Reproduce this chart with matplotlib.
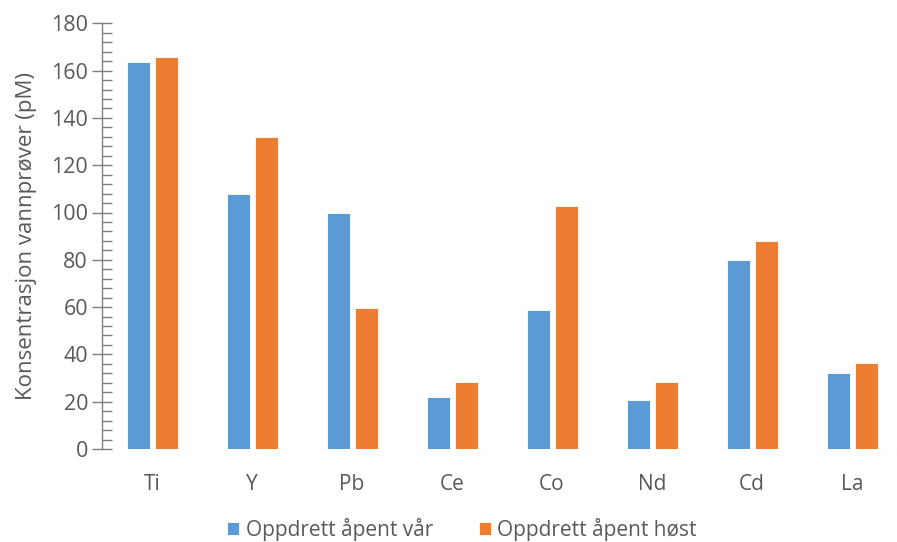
import numpy as np
import matplotlib
matplotlib.use("Agg")
import matplotlib.pyplot as plt
from matplotlib.ticker import MultipleLocator

# ── Data ──────────────────────────────────────────────────────────────────────
elements = ["Ti", "Y", "Pb", "Ce", "Co", "Nd", "Cd", "La"]
spring   = [163.5, 107.7, 100.0, 21.9, 58.8, 20.7, 79.9, 32.3]
autumn   = [165.6, 132.1, 59.7, 28.3, 102.9, 28.5, 88.1, 36.5]
series_names = ["Oppdrett åpent vår", "Oppdrett åpent høst"]

BLUE   = "#5B9BD5"
ORANGE = "#ED7D31"
GREY   = "#595959"

plt.rcParams["font.family"] = ["Open Sans", "DejaVu Sans"]

fig = plt.figure(figsize=(8.97, 5.42), dpi=100)
ax = fig.add_axes([102 / 897, 1 - 449 / 542, 795 / 897, (449 - 23.3) / 542])

x = np.arange(len(elements))
w = 0.23
ax.bar(x - 0.14, spring, w, color=BLUE, edgecolor="white", linewidth=0.6,
       label=series_names[0], zorder=3)
ax.bar(x + 0.14, autumn, w, color=ORANGE, edgecolor="white", linewidth=0.6,
       label=series_names[1], zorder=3)

ax.set_xlim(-0.5, 7.45)
ax.set_ylim(0, 180)
ax.yaxis.set_major_locator(MultipleLocator(20))
ax.yaxis.set_minor_locator(MultipleLocator(4))
ax.set_xticks(x)
ax.set_xticklabels(elements)

for s in ["top", "right", "bottom"]:
    ax.spines[s].set_visible(False)
ax.spines["left"].set_color("#7f7f7f")
ax.spines["left"].set_linewidth(1.0)
ax.axhline(0, color="#bfbfbf", lw=0.8, ls=(0, (1, 1)), zorder=2)

ax.tick_params(axis="y", which="major", direction="inout", length=14, width=1.0,
               color="#7f7f7f", labelsize=15.5, labelcolor=GREY, pad=3)
ax.tick_params(axis="y", which="minor", direction="in", length=7, width=1.0,
               color="#7f7f7f")
ax.tick_params(axis="x", length=0, labelsize=15, labelcolor=GREY, pad=18)

ax.set_ylabel("Konsentrasjon vannprøver (pM)", color=GREY, fontsize=16, labelpad=10)

leg = fig.legend(loc="lower center", bbox_to_anchor=(0.515, -0.032), ncol=2,
                 frameon=False, fontsize=15, handlelength=0.6, handleheight=0.6,
                 handletextpad=0.3, columnspacing=2.2)
for t in leg.get_texts():
    t.set_color(GREY)

fig.savefig("out.png", dpi=100)
